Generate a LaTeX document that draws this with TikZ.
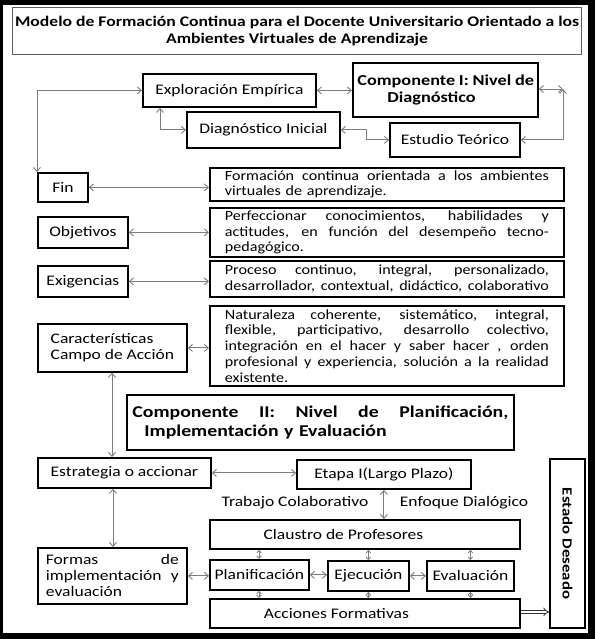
\documentclass[tikz,border=0pt]{standalone}
\usepackage{fontspec}
\setmainfont{Carlito}[FakeStretch=1.2]
\newfontfamily\rfont{Carlito}[FakeStretch=1.15]
\usetikzlibrary{arrows.meta}
\definecolor{cg}{RGB}{125,125,125}
\definecolor{tg}{RGB}{95,95,95}
\newcommand\jl[2]{\makebox[#1][s]{\spaceskip=0.25em plus 1fil\relax #2}}
\begin{document}
\begin{tikzpicture}[x=1pt,y=-1pt,
  box/.style={draw=black, line width=1.8pt, fill=white, inner sep=0pt, anchor=north west,
    font=\fontsize{14.6}{16}\selectfont},
  rbox/.style={box, align=left, text width=324pt, inner xsep=15pt, minimum width=354pt,
    font=\fontsize{14}{15.8}\rfont},
  con/.style={draw=cg, line width=0.9pt, {Straight Barb[length=4pt,width=7pt]}-{Straight Barb[length=4pt,width=7pt]}},
  scon/.style={draw=cg, line width=0.8pt, {Straight Barb[length=2.5pt,width=4.5pt]}-{Straight Barb[length=2.5pt,width=4.5pt]}},
  lbl/.style={font=\fontsize{14.6}{16}\selectfont, inner sep=0pt},
  imp/.style={draw=black!80, line width=0.8pt, double, double distance=2.2pt, -{Implies}}
]
\useasboundingbox (0,0) rectangle (595,639);
\fill[black] (0,0) rectangle (595,639);
\fill[white] (3,5) rectangle (588,633);

% title
\node[box, draw=tg, line width=1.2pt, minimum width=569pt, minimum height=47pt, align=center,
  font=\fontsize{14.7}{17}\selectfont\bfseries] (title) at (12,7)
  {Modelo de Formación Continua para el Docente Universitario Orientado a los\\Ambientes Virtuales de Aprendizaje};

% component I area
\node[box, minimum width=173pt, minimum height=33pt] (expl) at (142,73) {Exploración Empírica};
\node[box, minimum width=185pt, minimum height=54pt, align=left, text width=176pt,
  font=\fontsize{15.2}{17.5}\selectfont\bfseries] (c1) at (352,62)
  {\jl{176pt}{Componente I: Nivel de}\\\hspace*{30pt}Diagnóstico};
\node[box, minimum width=153pt, minimum height=36pt] (diag) at (186,111) {Diagnóstico Inicial};
\node[box, minimum width=130pt, minimum height=34pt] (estudio) at (389,122) {Estudio Teórico};

% left / right rows
\node[box, minimum width=50pt, minimum height=29pt] (fin) at (37,172) {Fin};
\node[rbox, minimum height=33pt] (form) at (209,167)
  {\jl{324pt}{Formación continua orientada a los ambientes}\\virtuales de aprendizaje.};
\node[box, minimum width=90pt, minimum height=31pt] (obj) at (37,216) {Objetivos};
\node[rbox, minimum height=49pt] (perf) at (209,207)
  {\jl{324pt}{Perfeccionar conocimientos, habilidades y}\\\jl{324pt}{actitudes, en función del desempeño tecno-}\\pedagógico.};
\node[box, minimum width=90pt, minimum height=31pt] (exig) at (37,265) {Exigencias};
\node[rbox, minimum height=36pt] (proc) at (209,260)
  {\jl{324pt}{Proceso continuo, integral, personalizado,}\\\jl{324pt}{desarrollador, contextual, didáctico, colaborativo}};
\node[box, minimum width=149pt, minimum height=48pt, align=left] (car) at (37,323)
  {Características\\Campo de Acción};
\node[rbox, minimum height=80pt] (nat) at (209,305)
  {\jl{324pt}{Naturaleza coherente, sistemático, integral,}\\\jl{324pt}{flexible, participativo, desarrollo colectivo,}\\\jl{324pt}{integración en el hacer y saber hacer , orden}\\\jl{324pt}{profesional y experiencia, solución a la realidad}\\existente.};

% component II
\node[box, minimum width=387pt, minimum height=55pt, align=left, text width=376pt,
  font=\fontsize{16.5}{19}\selectfont\bfseries] (c2) at (126,394)
  {\jl{376pt}{Componente II: Nivel de Planificación,}\\\hspace*{12pt}Implementación y Evaluación};
\node[box, minimum width=173pt, minimum height=30pt] (estr) at (37,457) {Estrategia o accionar};
\node[box, minimum width=174pt, minimum height=29pt] (etapa) at (296,459) {Etapa I(Largo Plazo)};
\node[lbl] (trab) at (295,503) {Trabajo Colaborativo};
\node[lbl] (enf) at (464,503) {Enfoque Dialógico};
\node[box, minimum width=310pt, minimum height=29pt] (claus) at (209,519) {Claustro de Profesores\hspace*{43pt}};
\node[box, minimum width=149pt, minimum height=56pt, align=left, text width=133pt, inner xsep=8pt] (formas) at (37,547)
  {\jl{133pt}{Formas de}\\\jl{133pt}{implementación y}\\evaluación};
\node[box, minimum width=99pt, minimum height=30pt] (plan) at (209,559) {Planificación};
\node[box, minimum width=81pt, minimum height=30pt] (ejec) at (327,560) {Ejecución};
\node[box, minimum width=87pt, minimum height=30pt] (eval) at (426,560) {Evaluación};
\node[box, minimum width=310pt, minimum height=29pt] (acc) at (209,598) {Acciones Formativas\hspace*{57pt}};
\node[box, anchor=center, rotate=-90, minimum width=169pt, minimum height=35pt,
  font=\fontsize{14}{17}\selectfont\bfseries] (estado) at (567.5,543.5) {Estado Deseado};

% connectors
\coordinate (cc) at (563,89);
\draw[con] (expl.west) -| (fin.north west);
\draw[con] (expl.east) -- (c1.west |- expl.east);
\draw[con] ([xshift=18pt]expl.south west) |- (diag.west);
\draw[con] (diag.east) -- ++(26,0) |- (estudio.west);
\draw[con] (c1.east |- cc) -- (cc);
\draw[con] (cc) |- (estudio.east);
\draw[con] (fin.east) -- (form.west |- fin.east);
\draw[con] (obj.east) -- (perf.west |- obj.east);
\draw[con] (exig.east) -- (proc.west |- exig.east);
\draw[con] (car.east) -- (nat.west |- car.east);
\draw[con] ([xshift=75pt]car.south west) -- ([xshift=75pt]estr.north west);
\draw[con] (estr.east) -- (etapa.west |- estr.east);
\draw[con] (etapa.south) -- (etapa.south |- claus.north);
\draw[con] ([xshift=76pt]estr.south west) -- ([xshift=76pt]formas.north west);
\draw[con] (formas.east) -- (plan.west |- formas.east);
\draw[con] (plan.east) -- (ejec.west |- plan.east);
\draw[con] (ejec.east) -- (eval.west |- ejec.east);
\draw[scon] ([xshift=50pt]plan.north west |- claus.south) -- ([xshift=50pt]plan.north west);
\draw[scon] (ejec.north |- claus.south) -- (ejec.north);
\draw[scon] (eval.north |- claus.south) -- (eval.north);
\draw[scon] ([xshift=50pt]plan.south west) -- ([xshift=50pt]plan.south west |- acc.north);
\draw[scon] (ejec.south) -- (ejec.south |- acc.north);
\draw[scon] (eval.south) -- (eval.south |- acc.north);
\draw[imp] ([yshift=1.5pt]acc.east) -- ([yshift=1.5pt]acc.east -| estado.south);
\end{tikzpicture}
\end{document}
